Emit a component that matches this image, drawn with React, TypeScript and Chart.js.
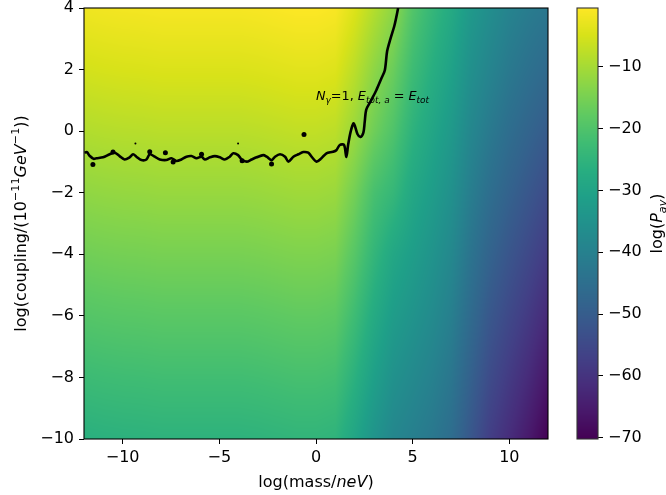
import React, { useEffect, useRef } from "react";
import { Chart, registerables } from "chart.js";

Chart.register(...registerables);

const FONT = '"DejaVu Sans", sans-serif';
const TICK_SIZE = 16;
const LABEL_SIZE = 16;
const NOTE_SIZE = 12.8;

// Sampling grid: log(mass/neV) columns and log(coupling) rows
const massAxis = [-12, -11, -10, -9, -8, -7, -6, -5, -4, -3, -2, -1, 0, 1, 2, 3, 4, 5, 6, 7, 8, 9, 10, 11, 12];
const couplingAxis = [-10, -8, -6, -4, -2, 0, 2, 4];

// log(P_av) along each coupling row, one value per mass column
const pavCouplingM10 = [-26.3, -26, -25.8, -25.7, -25.5, -25.5, -25.5, -25.5, -25.5, -25.3, -25, -24.7, -24.7, -25.2, -29.5, -34.5, -38.5, -40.5, -42.5, -45.5, -51.5, -57.5, -61.5, -65.5, -70.2];
const pavCouplingM8 = [-22.8, -22.5, -22.3, -22.2, -22, -22, -22, -22, -22, -21.8, -21.5, -21.2, -21.2, -21.7, -26, -31.1, -35.3, -37.6, -39.9, -43, -48.9, -54.4, -58.3, -62, -66.2];
const pavCouplingM6 = [-19.3, -19, -18.8, -18.7, -18.5, -18.5, -18.5, -18.5, -18.5, -18.3, -18, -17.7, -17.7, -18.2, -22.5, -27.8, -32.1, -34.6, -37.2, -40.5, -46.2, -51.4, -55.1, -58.5, -62.3];
const pavCouplingM4 = [-15.8, -15.5, -15.3, -15.2, -15, -15, -15, -15, -15, -14.8, -14.5, -14.2, -14.2, -14.7, -19, -24.4, -28.9, -31.7, -34.6, -38, -43.6, -48.3, -51.9, -55, -58.3];
const pavCouplingM2 = [-12.3, -12, -11.8, -11.7, -11.5, -11.5, -11.5, -11.5, -11.5, -11.3, -11, -10.7, -10.7, -11.2, -15.5, -21.1, -24, -28.8, -31.9, -35.5, -40.9, -45.2, -48.6, -51.5, -54.4];
const pavCoupling0 = [-8.8, -8.5, -8.3, -8.2, -8, -8, -8, -8, -8, -7.8, -7.5, -7.2, -7.2, -7.7, -11.3, -16, -20, -25.5, -29.3, -33, -38.3, -42.1, -45.4, -48, -50.4];
const pavCouplingP2 = [-5.3, -5.0, -4.8, -4.7, -4.5, -4.5, -4.5, -4.5, -4.5, -4.3, -4.0, -3.7, -3.7, -4.2, -7.8, -12.5, -16.5, -22.5, -26.6, -30.5, -35.6, -39.1, -42.2, -44.5, -46.5];
const pavCouplingP4 = [-2.1, -1.8, -1.6, -1.5, -1.3, -1.3, -1.3, -1.3, -1.3, -1.1, -0.8, -0.5, -0.5, -1.0, -4.3, -8.5, -12.5, -19.5, -24, -28, -33, -36.3, -39.3, -41.3, -42.8];
const pavRows = [pavCouplingM10, pavCouplingM8, pavCouplingM6, pavCouplingM4, pavCouplingM2, pavCoupling0, pavCouplingP2, pavCouplingP4];

// Tick values
const massTicks = [-10, -5, 0, 5, 10];
const couplingTicks = [-10, -8, -6, -4, -2, 0, 2, 4];
const pavTicks = [-70, -60, -50, -40, -30, -20, -10];

// N_gamma = 1 contour (E_tot,a = E_tot)
const contourLine = [
  { x: -11.97, y: -0.7 }, { x: -11.85, y: -0.68 }, { x: -11.71, y: -0.8 }, { x: -11.5, y: -0.9 },
  { x: -11.36, y: -0.88 }, { x: -11.02, y: -0.85 }, { x: -10.67, y: -0.75 }, { x: -10.41, y: -0.7 },
  { x: -10.16, y: -0.81 }, { x: -9.9, y: -0.92 }, { x: -9.64, y: -0.85 }, { x: -9.46, y: -0.75 },
  { x: -9.29, y: -0.83 }, { x: -9.03, y: -0.94 }, { x: -8.77, y: -0.92 }, { x: -8.6, y: -0.75 },
  { x: -8.34, y: -0.83 }, { x: -8.08, y: -0.92 }, { x: -7.74, y: -0.94 }, { x: -7.48, y: -0.88 },
  { x: -7.22, y: -0.97 }, { x: -6.96, y: -0.92 }, { x: -6.7, y: -0.83 }, { x: -6.44, y: -0.81 },
  { x: -6.18, y: -0.88 }, { x: -5.92, y: -0.83 }, { x: -5.75, y: -0.92 }, { x: -5.49, y: -0.85 },
  { x: -5.23, y: -0.81 }, { x: -4.97, y: -0.85 }, { x: -4.72, y: -0.92 }, { x: -4.46, y: -0.83 },
  { x: -4.28, y: -0.72 }, { x: -4.03, y: -0.78 }, { x: -3.85, y: -0.92 }, { x: -3.59, y: -0.99 },
  { x: -3.33, y: -0.92 }, { x: -3.07, y: -0.85 }, { x: -2.73, y: -0.78 }, { x: -2.55, y: -0.83 },
  { x: -2.29, y: -0.94 }, { x: -2.12, y: -0.83 }, { x: -1.86, y: -0.75 }, { x: -1.6, y: -0.83 },
  { x: -1.43, y: -0.99 }, { x: -1.17, y: -0.83 }, { x: -0.91, y: -0.75 }, { x: -0.66, y: -0.68 },
  { x: -0.4, y: -0.7 }, { x: -0.23, y: -0.83 }, { x: 0.03, y: -0.99 }, { x: 0.28, y: -0.88 },
  { x: 0.54, y: -0.72 }, { x: 0.87, y: -0.67 }, { x: 1.05, y: -0.62 }, { x: 1.23, y: -0.45 },
  { x: 1.45, y: -0.45 }, { x: 1.57, y: -0.84 }, { x: 1.66, y: -0.45 }, { x: 1.8, y: 0.0 },
  { x: 1.95, y: 0.25 }, { x: 2.15, y: -0.1 }, { x: 2.3, y: -0.19 }, { x: 2.45, y: -0.05 },
  { x: 2.52, y: 0.3 }, { x: 2.6, y: 0.7 }, { x: 2.85, y: 1.0 }, { x: 3.12, y: 1.33 },
  { x: 3.38, y: 1.71 }, { x: 3.56, y: 1.98 }, { x: 3.68, y: 2.6 }, { x: 3.85, y: 3.0 },
  { x: 4.06, y: 3.44 }, { x: 4.25, y: 4.0 },
];
const contourIslands = [
  { x: -11.54, y: -1.08 }, { x: -10.5, y: -0.68 }, { x: -8.6, y: -0.67 }, { x: -7.79, y: -0.7 },
  { x: -7.39, y: -1.0 }, { x: -5.92, y: -0.75 }, { x: -3.82, y: -0.96 }, { x: -2.3, y: -1.07 },
  { x: -0.62, y: -0.11 },
];
const contourSpecks = [{ x: -9.34, y: -0.4 }, { x: -4.03, y: -0.4 }];

// viridis colormap stops
const VIRIDIS = ["#440154", "#48186a", "#472d7b", "#424086", "#3b528b", "#33638d", "#2c728e", "#26828e", "#21918c", "#1fa088", "#28ae80", "#3fbc73", "#5ec962", "#84d44b", "#addc30", "#d8e219", "#fde725"].map(
  (h) => [parseInt(h.slice(1, 3), 16), parseInt(h.slice(3, 5), 16), parseInt(h.slice(5, 7), 16)]
);

const allValues = pavRows.flat();
const vMin = Math.min(...allValues);
const vMax = Math.max(...allValues);

function viridis(t: number): number[] {
  const c = Math.max(0, Math.min(1, t)) * (VIRIDIS.length - 1);
  const i = Math.min(VIRIDIS.length - 2, Math.floor(c));
  const f = c - i;
  const a = VIRIDIS[i], b = VIRIDIS[i + 1];
  return [a[0] + (b[0] - a[0]) * f, a[1] + (b[1] - a[1]) * f, a[2] + (b[2] - a[2]) * f];
}

function locate(axis: number[], v: number): [number, number] {
  if (v <= axis[0]) return [0, 0];
  if (v >= axis[axis.length - 1]) return [axis.length - 2, 1];
  let i = 0;
  while (axis[i + 1] < v) i++;
  return [i, (v - axis[i]) / (axis[i + 1] - axis[i])];
}

function sampleField(m: number, g: number): number {
  const [i, fx] = locate(massAxis, m);
  const [j, fy] = locate(couplingAxis, g);
  const r0 = pavRows[j], r1 = pavRows[j + 1];
  const a = r0[i] + (r0[i + 1] - r0[i]) * fx;
  const b = r1[i] + (r1[i + 1] - r1[i]) * fx;
  return a + (b - a) * fy;
}

type Run = { s: string; italic?: boolean; shift?: "sup" | "sub" };

function runFont(r: Run, size: number) {
  const fs = r.shift ? size * 0.7 : size;
  return `${r.italic ? "italic " : ""}${fs}px ${FONT}`;
}

function richWidth(ctx: CanvasRenderingContext2D, runs: Run[], size: number) {
  let w = 0;
  for (const r of runs) {
    ctx.font = runFont(r, size);
    w += ctx.measureText(r.s).width;
  }
  return w;
}

function drawRich(ctx: CanvasRenderingContext2D, runs: Run[], x: number, y: number, size: number, align: "left" | "center") {
  let cx = align === "center" ? x - richWidth(ctx, runs, size) / 2 : x;
  ctx.textAlign = "left";
  ctx.textBaseline = "alphabetic";
  ctx.fillStyle = "#000";
  for (const r of runs) {
    ctx.font = runFont(r, size);
    const dy = r.shift === "sup" ? -size * 0.42 : r.shift === "sub" ? size * 0.24 : 0;
    ctx.fillText(r.s, cx, y + dy);
    cx += ctx.measureText(r.s).width;
  }
}

const xTitle: Run[] = [{ s: "log(mass/" }, { s: "neV", italic: true }, { s: ")" }];
const yTitle: Run[] = [{ s: "log(coupling/(10" }, { s: "−11", shift: "sup" }, { s: "GeV", italic: true }, { s: "−1", shift: "sup" }, { s: "))" }];
const cbTitle: Run[] = [{ s: "log(" }, { s: "P", italic: true }, { s: "av", italic: true, shift: "sub" }, { s: ")" }];
const note: Run[] = [
  { s: "N", italic: true }, { s: "γ", italic: true, shift: "sub" }, { s: "=1, " },
  { s: "E", italic: true }, { s: "tot, a", italic: true, shift: "sub" }, { s: " = " },
  { s: "E", italic: true }, { s: "tot", italic: true, shift: "sub" },
];

const fmt = (v: number) => (v < 0 ? "−" + Math.abs(v) : String(v));

const fieldPlugin = {
  id: "pavField",
  beforeDatasetsDraw(chart: any) {
    const { ctx, chartArea: a, scales } = chart;
    const w = Math.round(a.right - a.left);
    const h = Math.round(a.bottom - a.top);
    const off = document.createElement("canvas");
    off.width = w;
    off.height = h;
    const octx = off.getContext("2d")!;
    const img = octx.createImageData(w, h);
    const xs = Array.from({ length: w }, (_, i) => scales.x.getValueForPixel(a.left + i + 0.5));
    const ys = Array.from({ length: h }, (_, j) => scales.y.getValueForPixel(a.top + j + 0.5));
    for (let j = 0; j < h; j++) {
      for (let i = 0; i < w; i++) {
        const v = sampleField(xs[i], ys[j]);
        const c = viridis((v - vMin) / (vMax - vMin));
        const k = (j * w + i) * 4;
        img.data[k] = c[0];
        img.data[k + 1] = c[1];
        img.data[k + 2] = c[2];
        img.data[k + 3] = 255;
      }
    }
    octx.putImageData(img, 0, 0);
    ctx.drawImage(off, a.left, a.top);
  },
  afterDatasetsDraw(chart: any) {
    const { ctx, scales } = chart;
    ctx.save();
    drawRich(ctx, note, scales.x.getPixelForValue(0), scales.y.getPixelForValue(1), NOTE_SIZE, "left");
    ctx.restore();
  },
  afterDraw(chart: any) {
    const { ctx, chartArea: a } = chart;
    ctx.save();
    ctx.strokeStyle = "#000";
    ctx.lineWidth = 1.1;
    ctx.strokeRect(a.left, a.top, a.right - a.left, a.bottom - a.top);
    drawRich(ctx, xTitle, (a.left + a.right) / 2, 487, LABEL_SIZE, "center");
    ctx.translate(26, (a.top + a.bottom) / 2);
    ctx.rotate(-Math.PI / 2);
    drawRich(ctx, yTitle, 0, 0, LABEL_SIZE, "center");
    ctx.restore();
  },
};

const colorbarPlugin = {
  id: "pavColorbar",
  beforeDatasetsDraw(chart: any) {
    const { ctx, chartArea: a, scales } = chart;
    for (let py = Math.floor(a.top); py < Math.ceil(a.bottom); py++) {
      const v = scales.y.getValueForPixel(py + 0.5);
      const c = viridis((v - vMin) / (vMax - vMin));
      ctx.fillStyle = `rgb(${c[0]},${c[1]},${c[2]})`;
      ctx.fillRect(a.left, py, a.right - a.left, 1);
    }
  },
  afterDraw(chart: any) {
    const { ctx, chartArea: a } = chart;
    ctx.save();
    ctx.strokeStyle = "#333";
    ctx.lineWidth = 1.1;
    ctx.strokeRect(a.left, a.top, a.right - a.left, a.bottom - a.top);
    ctx.translate(662, (a.top + a.bottom) / 2);
    ctx.rotate(-Math.PI / 2);
    drawRich(ctx, cbTitle, 0, 0, LABEL_SIZE, "center");
    ctx.restore();
  },
};

const tickGrid = { display: true, drawOnChartArea: false, drawTicks: true, tickLength: 5, color: "#000", lineWidth: 1 };
const tickFont = { family: FONT, size: TICK_SIZE };

// Keep tick labels from pushing the plot area inwards
const noEdgePadding = (s: any) => {
  s.paddingTop = 0;
  s.paddingBottom = 0;
  s.paddingLeft = 0;
  s.paddingRight = 0;
};

export default function App() {
  const mainRef = useRef<HTMLCanvasElement>(null);
  const barRef = useRef<HTMLCanvasElement>(null);

  useEffect(() => {
    document.body.style.margin = "0";
    const main = new Chart(mainRef.current!, {
      type: "scatter",
      data: {
        datasets: [
          { data: contourLine, showLine: true, borderColor: "#000", borderWidth: 2.6, pointRadius: 0, tension: 0.3, fill: false } as any,
          { data: contourIslands, pointRadius: 2.5, backgroundColor: "#000", borderWidth: 0 },
          { data: contourSpecks, pointRadius: 1, backgroundColor: "#000", borderWidth: 0 },
        ],
      },
      options: {
        responsive: false,
        animation: false,
        devicePixelRatio: 1,
        events: [],
        layout: { padding: { top: 8, right: 118, left: 0, bottom: 0 } },
        plugins: { legend: { display: false }, tooltip: { enabled: false } },
        scales: {
          x: {
            type: "linear",
            min: -12,
            max: 12,
            afterBuildTicks: (s: any) => { s.ticks = massTicks.map((v) => ({ value: v })); },
            afterFit: (s: any) => { s.height = 56; noEdgePadding(s); },
            grid: tickGrid,
            border: { display: false },
            ticks: { font: tickFont, color: "#000", padding: 4, maxRotation: 0, callback: (v: any) => fmt(Number(v)) },
          },
          y: {
            type: "linear",
            min: -10,
            max: 4,
            afterBuildTicks: (s: any) => { s.ticks = couplingTicks.map((v) => ({ value: v })); },
            afterFit: (s: any) => { s.width = 84; noEdgePadding(s); },
            grid: tickGrid,
            border: { display: false },
            ticks: { font: tickFont, color: "#000", padding: 5, callback: (v: any) => fmt(Number(v)) },
          },
        },
      } as any,
      plugins: [fieldPlugin],
    });

    const bar = new Chart(barRef.current!, {
      type: "scatter",
      data: { datasets: [] },
      options: {
        responsive: false,
        animation: false,
        devicePixelRatio: 1,
        events: [],
        layout: { padding: { top: 8, right: 0, left: 577, bottom: 56 } },
        plugins: { legend: { display: false }, tooltip: { enabled: false } },
        scales: {
          x: { display: false, min: 0, max: 1 },
          y: {
            type: "linear",
            position: "right",
            min: vMin,
            max: vMax,
            afterBuildTicks: (s: any) => { s.ticks = pavTicks.map((v) => ({ value: v })); },
            afterFit: (s: any) => { s.width = 68; noEdgePadding(s); },
            grid: tickGrid,
            border: { display: false },
            ticks: { font: tickFont, color: "#000", padding: 5, callback: (v: any) => fmt(Number(v)) },
          },
        },
      } as any,
      plugins: [colorbarPlugin],
    });

    return () => {
      main.destroy();
      bar.destroy();
    };
  }, []);

  return (
    <div style={{ position: "fixed", left: 0, top: 0, width: 666, height: 495, background: "#fff" }}>
      <canvas ref={mainRef} width={666} height={495} style={{ position: "absolute", left: 0, top: 0 }} />
      <canvas ref={barRef} width={666} height={495} style={{ position: "absolute", left: 0, top: 0 }} />
    </div>
  );
}
